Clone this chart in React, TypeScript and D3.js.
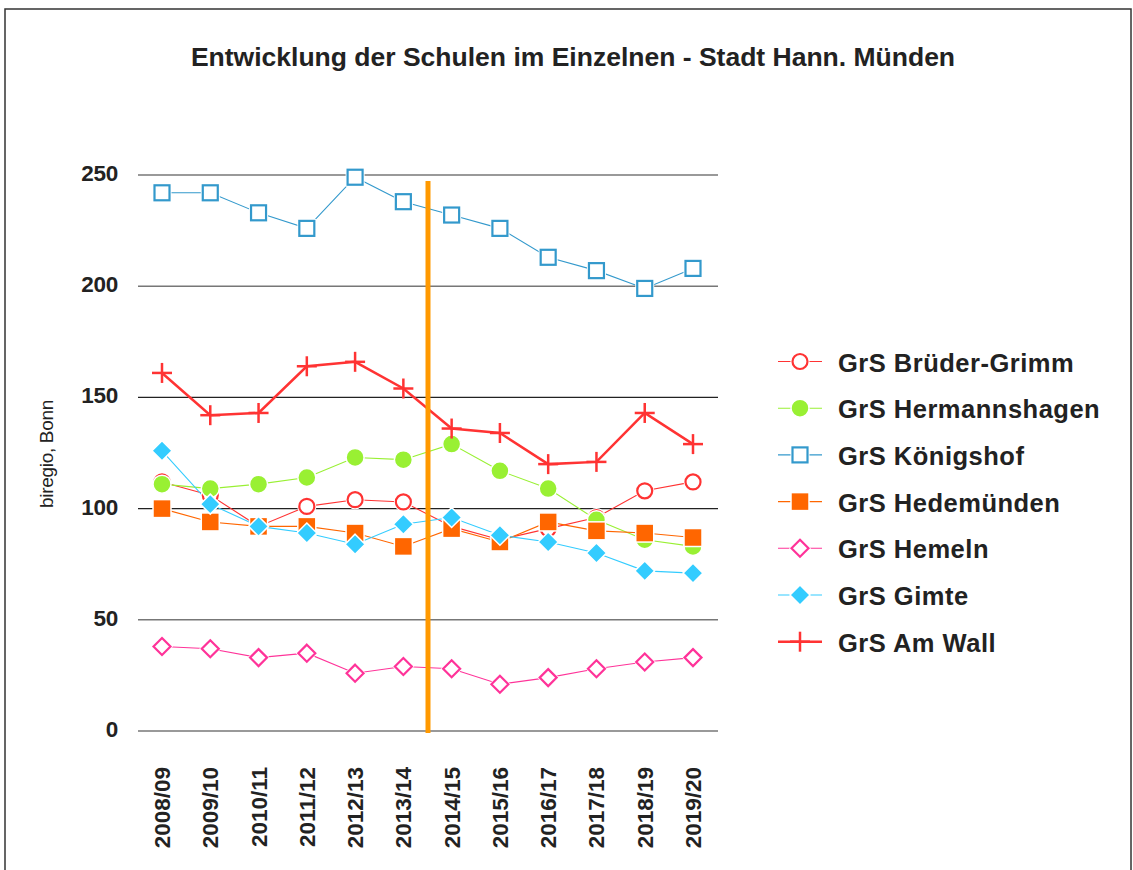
import React from 'react'
import * as d3 from 'd3'

const width = 1133
const height = 870

const years = [
  '2008/09', '2009/10', '2010/11', '2011/12', '2012/13', '2013/14',
  '2014/15', '2015/16', '2016/17', '2017/18', '2018/19', '2019/20',
]

const brueder = [112, 106, 92, 101, 104, 103, 92, 86, 91, 96, 108, 112]
const hermannshagen = [111, 109, 111, 114, 123, 122, 129, 117, 109, 95, 86, 83]
const koenigshof = [242, 242, 233, 226, 249, 238, 232, 226, 213, 207, 199, 208]
const hedemuenden = [100, 94, 92, 92, 89, 83, 91, 85, 94, 90, 89, 87]
const hemeln = [38, 37, 33, 35, 26, 29, 28, 21, 24, 28, 31, 33]
const gimte = [126, 102, 92, 89, 84, 93, 96, 88, 85, 80, 72, 71]
const amWall = [161, 142, 143, 164, 166, 154, 136, 134, 120, 121, 143, 129]

const yTicks = [0, 50, 100, 150, 200, 250]

const series = [
  { name: 'GrS Brüder-Grimm', values: brueder, color: '#ff3333', marker: 'circle', filled: false, lw: 1.1 },
  { name: 'GrS Hermannshagen', values: hermannshagen, color: '#99f033', marker: 'circle', filled: true, lw: 1.1 },
  { name: 'GrS Königshof', values: koenigshof, color: '#3399cc', marker: 'square', filled: false, lw: 1.1 },
  { name: 'GrS Hedemünden', values: hedemuenden, color: '#ff6600', marker: 'square', filled: true, lw: 1.1 },
  { name: 'GrS Hemeln', values: hemeln, color: '#ff3399', marker: 'diamond', filled: false, lw: 1.1 },
  { name: 'GrS Gimte', values: gimte, color: '#33ccff', marker: 'diamond', filled: true, lw: 1.1 },
  { name: 'GrS Am Wall', values: amWall, color: '#ff3333', marker: 'plus', filled: false, lw: 2.5 },
]

const plot = { left: 138, right: 718, top: 175, bottom: 731 }
const font = '"Liberation Sans", Arial, sans-serif'

function Marker({ type, filled, color, x, y }) {
  if (type === 'circle') {
    return filled ? (
      <circle cx={x} cy={y} r={9} fill={color} stroke="#fff" strokeWidth={1.5} />
    ) : (
      <g>
        <circle cx={x} cy={y} r={9.5} fill="#fff" />
        <circle cx={x} cy={y} r={7.5} fill="#fff" stroke={color} strokeWidth={2.2} />
      </g>
    )
  }
  if (type === 'square') {
    return filled ? (
      <rect x={x - 9} y={y - 9} width={18} height={18} fill={color} stroke="#fff" strokeWidth={1.5} />
    ) : (
      <g>
        <rect x={x - 9.5} y={y - 9.5} width={19} height={19} fill="#fff" />
        <rect x={x - 7.5} y={y - 7.5} width={15} height={15} fill="#fff" stroke={color} strokeWidth={2.2} />
      </g>
    )
  }
  if (type === 'diamond') {
    const d = (r) => `M${x},${y - r}L${x + r},${y}L${x},${y + r}L${x - r},${y}Z`
    return filled ? (
      <path d={d(10)} fill={color} stroke="#fff" strokeWidth={1.5} />
    ) : (
      <g>
        <path d={d(11)} fill="#fff" />
        <path d={d(8.5)} fill="#fff" stroke={color} strokeWidth={2.2} />
      </g>
    )
  }
  return (
    <g stroke={color} strokeWidth={2.5}>
      <line x1={x - 10} x2={x + 10} y1={y} y2={y} />
      <line x1={x} x2={x} y1={y - 10} y2={y + 10} />
    </g>
  )
}

export default function App() {
  const x = d3.scalePoint().domain(years).range([162, 693])
  const y = d3.scaleLinear().domain([0, 250]).range([plot.bottom, plot.top])
  const line = d3
    .line<number>()
    .x((_, i) => x(years[i]))
    .y((d) => y(d))

  const step = x.step()
  const cutX = x('2013/14') + step / 2 + 0.5

  const legendY0 = 361.5
  const legendStep = 46.7

  return (
    <svg width={width} height={height} style={{ position: 'absolute', left: 0, top: 0 }}>
      <rect x={0} y={0} width={width} height={height} fill="#fff" />
      <rect x={5} y={9} width={1126} height={880} fill="none" stroke="#333" strokeWidth={1.5} />

      <text
        x={573}
        y={66}
        textAnchor="middle"
        style={{ fontFamily: font, fontWeight: 'bold', fontSize: '26.5px', fill: '#222' }}
      >
        Entwicklung der Schulen im Einzelnen - Stadt Hann. Münden
      </text>

      {yTicks.map((t) => (
        <g key={'tick-' + t}>
          <line
            x1={plot.left}
            x2={plot.right}
            y1={y(t)}
            y2={y(t)}
            stroke={t === 100 || t === 150 ? '#222' : '#777'}
            strokeWidth={t === 100 || t === 150 ? 1.2 : 1.6}
          />
          <text
            x={118}
            y={y(t) + 6}
            textAnchor="end"
            style={{ fontFamily: font, fontWeight: 'bold', fontSize: '22.5px', letterSpacing: '-0.3px', fill: '#222' }}
          >
            {t}
          </text>
        </g>
      ))}

      <text
        transform={`translate(53,${454}) rotate(-90)`}
        textAnchor="middle"
        style={{ fontFamily: font, fontSize: '19px', letterSpacing: '-0.3px', fill: '#222' }}
      >
        biregio, Bonn
      </text>

      {years.map((yr) => (
        <text
          key={'x-' + yr}
          transform={`translate(${x(yr) + 8},767) rotate(-90)`}
          textAnchor="end"
          style={{ fontFamily: font, fontWeight: 'bold', fontSize: '22.5px', fill: '#222' }}
        >
          {yr}
        </text>
      ))}

      {series.map((s) => (
        <path
          key={'line-' + s.name}
          d={line(s.values)}
          fill="none"
          stroke={s.color}
          strokeWidth={s.lw}
        />
      ))}
      {series.map((s) => (
        <g key={'marks-' + s.name}>
          {s.values.map((v, i) => (
            <Marker key={i} type={s.marker} filled={s.filled} color={s.color} x={x(years[i])} y={y(v)} />
          ))}
        </g>
      ))}

      <line x1={cutX} x2={cutX} y1={181} y2={733} stroke="#ff9900" strokeWidth={5} />

      {series.map((s, i) => {
        const ly = legendY0 + i * legendStep
        return (
          <g key={'legend-' + s.name}>
            <line x1={778} x2={822} y1={ly} y2={ly} stroke={s.color} strokeWidth={s.lw} />
            <Marker type={s.marker} filled={s.filled} color={s.color} x={800} y={ly} />
            <text
              x={838}
              y={ly + 10}
              style={{ fontFamily: font, fontWeight: 'bold', fontSize: '25.5px', letterSpacing: '0.5px', fill: '#222' }}
            >
              {s.name}
            </text>
          </g>
        )
      })}
    </svg>
  )
}
